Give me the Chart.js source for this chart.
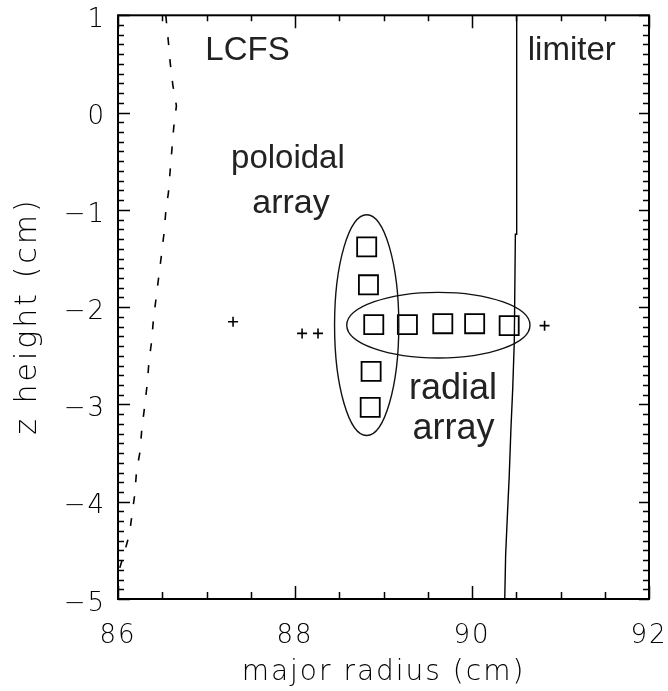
<!DOCTYPE html>
<html>
<head>
<meta charset="utf-8">
<script src="https://cdn.jsdelivr.net/npm/chart.js@4.4.1/dist/chart.umd.min.js"></script>
<style>
  html, body { margin: 0; padding: 0; background: #fff; }
  canvas { display: block; }
</style>
</head>
<body>
<canvas id="probeChart" width="668" height="691"></canvas>
<script>
// ── data (major radius in cm, z height in cm) ─────────────────────────────
const lcfsR = [86.54, 86.57, 86.59, 86.62, 86.66, 86.63, 86.61, 86.59, 86.57, 86.54, 86.52, 86.49, 86.46, 86.43,
               86.40, 86.38, 86.35, 86.33, 86.30, 86.27, 86.25, 86.21, 86.19, 86.16, 86.13, 86.07, 86.02];
const lcfsZ = [1.00, 0.72, 0.51, 0.28, 0.07, -0.15, -0.37, -0.59, -0.82, -1.02, -1.24, -1.47, -1.69, -1.91,
               -2.13, -2.35, -2.56, -2.79, -3.03, -3.24, -3.48, -3.68, -3.92, -4.12, -4.33, -4.53, -4.68];

const limiterR = [90.505, 90.505, 90.49, 90.478, 90.46, 90.44, 90.42, 90.40, 90.38, 90.37];
const limiterZ = [1.00, -1.25, -1.25, -2.35, -2.84, -3.25, -3.75, -4.14, -4.55, -5.00];

const plusR = [87.30, 88.08, 88.26, 90.82];
const plusZ = [-2.15, -2.27, -2.27, -2.19];

const poloidalR = [88.81, 88.83, 88.89, 88.86, 88.85];
const poloidalZ = [-1.38, -1.77, -2.18, -2.66, -3.03];

const radialR = [89.27, 89.67, 90.03, 90.42];
const radialZ = [-2.18, -2.17, -2.17, -2.19];

// ellipse outlines: [centre R, centre z, half width R, half height z]
const poloidalRing = [88.81, -2.185, 0.363, 1.135];
const radialRing   = [89.62, -2.185, 1.035, 0.337];

// tick values
const xTickStep = 2;
const yTickStep = 1;

// ── annotations (data coords, alphabetic baseline) ───────────────────────
const notes = [
  { text: 'LCFS',     r: 87.463, z: 0.54,   size: 33 },
  { text: 'limiter',  r: 91.127, z: 0.54,   size: 33 },
  { text: 'poloidal', r: 87.92,  z: -0.574, size: 33 },
  { text: 'array',    r: 87.955, z: -1.034, size: 34 },
  { text: 'radial',   r: 89.785, z: -2.945, size: 36 },
  { text: 'array',    r: 89.79,  z: -3.354, size: 36 },
];

const pts = (rs, zs) => rs.map((r, i) => ({ x: r, y: zs[i] }));
const minus = v => String(v).replace('-', '\u2212');
const AXIS_FONT = "'DejaVu Sans', sans-serif";

/* ─────────────────────────────────────────────
 * frame, inward ticks, ellipses, labels
 * ───────────────────────────────────────────── */
const probeDecor = {
  id: 'probeDecor',
  beforeDraw(chart) {
    chart.ctx.letterSpacing = '2px';
  },
  afterDatasetsDraw(chart) {
    const { ctx } = chart;
    const xs = chart.scales.x, ys = chart.scales.y;
    ctx.save();
    ctx.strokeStyle = '#111';
    ctx.lineWidth = 1.4;
    [poloidalRing, radialRing].forEach(([cr, cz, ar, az]) => {
      const cx = xs.getPixelForValue(cr);
      const cy = ys.getPixelForValue(cz);
      const rx = Math.abs(xs.getPixelForValue(cr + ar) - cx);
      const ry = Math.abs(ys.getPixelForValue(cz + az) - cy);
      ctx.beginPath();
      ctx.ellipse(cx, cy, rx, ry, 0, 0, Math.PI * 2);
      ctx.stroke();
    });
    ctx.restore();
  },
  afterDraw(chart) {
    const { ctx, chartArea: a } = chart;
    const xs = chart.scales.x, ys = chart.scales.y;
    ctx.save();
    ctx.strokeStyle = '#000';

    // x ticks every 0.5, major every 2
    ctx.lineWidth = 1.5;
    for (let k = 0; k <= 12; k++) {
      const v = 86 + k * 0.5;
      const px = Math.round(xs.getPixelForValue(v)) + 0.5;
      const major = k % 4 === 0;
      ctx.beginPath();
      ctx.moveTo(px, a.bottom); ctx.lineTo(px, a.bottom - (major ? 13 : 7));
      ctx.moveTo(px, a.top);    ctx.lineTo(px, a.top + (major ? 13 : 6));
      ctx.stroke();
    }
    // y ticks every 0.1, major every 1
    for (let k = 0; k <= 60; k++) {
      const v = -5 + k * 0.1;
      const py = Math.round(ys.getPixelForValue(v)) + 0.5;
      const major = k % 10 === 0;
      ctx.beginPath();
      ctx.moveTo(a.left, py);  ctx.lineTo(a.left + (major ? 12 : 6), py);
      ctx.moveTo(a.right, py); ctx.lineTo(a.right - (major ? 10 : 6), py);
      ctx.stroke();
    }

    // box
    ctx.lineWidth = 2;
    ctx.strokeRect(a.left, a.top, a.right - a.left, a.bottom - a.top);

    // y axis title (drawn by hand so it can sit a bit lower, like the original)
    ctx.save();
    ctx.letterSpacing = '3px';
    ctx.translate(28, 316);
    ctx.rotate(-Math.PI / 2);
    ctx.font = `200 30px ${AXIS_FONT}`;
    ctx.fillStyle = '#000';
    ctx.textAlign = 'center';
    ctx.textBaseline = 'middle';
    ctx.fillText('z height (cm)', 0, 0);
    ctx.restore();

    // text labels
    ctx.letterSpacing = '0px';
    ctx.fillStyle = '#222';
    ctx.textAlign = 'center';
    ctx.textBaseline = 'alphabetic';
    notes.forEach(n => {
      ctx.font = `${n.size}px 'Liberation Sans', Arial, sans-serif`;
      ctx.fillText(n.text, xs.getPixelForValue(n.r), ys.getPixelForValue(n.z));
    });
    ctx.restore();
  },
};

new Chart(document.getElementById('probeChart').getContext('2d'), {
  type: 'scatter',
  data: {
    datasets: [
      {
        label: 'LCFS',
        data: pts(lcfsR, lcfsZ),
        showLine: true,
        borderColor: '#000',
        borderWidth: 1.6,
        borderDash: [8, 14],
        pointRadius: 0,
        tension: 0,
      },
      {
        label: 'limiter',
        data: pts(limiterR, limiterZ),
        showLine: true,
        borderColor: '#000',
        borderWidth: 1.4,
        pointRadius: 0,
        tension: 0,
      },
      {
        label: 'probes',
        data: pts(plusR, plusZ),
        pointStyle: 'cross',
        pointRadius: 5,
        borderColor: '#000',
        borderWidth: 1.6,
      },
      {
        label: 'poloidal array',
        data: pts(poloidalR, poloidalZ),
        pointStyle: 'rect',
        pointRadius: 13.5,
        borderColor: '#000',
        backgroundColor: 'rgba(0,0,0,0)',
        borderWidth: 1.8,
      },
      {
        label: 'radial array',
        data: pts(radialR, radialZ),
        pointStyle: 'rect',
        pointRadius: 13.5,
        borderColor: '#000',
        backgroundColor: 'rgba(0,0,0,0)',
        borderWidth: 1.8,
      },
    ],
  },
  options: {
    responsive: false,
    animation: false,
    devicePixelRatio: 1,
    layout: { padding: { top: 12, right: 19, left: 0, bottom: 0 } },
    plugins: { legend: { display: false }, tooltip: { enabled: false } },
    scales: {
      x: {
        type: 'linear',
        min: 86,
        max: 92,
        afterFit: s => { s.height = 92; s.paddingLeft = 0; s.paddingRight = 0; },
        border: { display: false },
        grid: { display: false, drawTicks: false },
        ticks: {
          stepSize: xTickStep,
          padding: 22,
          color: '#000',
          font: { family: AXIS_FONT, size: 26, weight: 200 },
          maxRotation: 0,
          callback: v => minus(v),
        },
        title: {
          display: true,
          text: 'major radius (cm)',
          color: '#000',
          font: { family: AXIS_FONT, size: 28, weight: 200 },
          padding: { top: 0, bottom: 1 },
        },
      },
      y: {
        type: 'linear',
        min: -5,
        max: 1,
        afterFit: s => { s.width = 118; s.paddingTop = 0; s.paddingBottom = 0; },
        border: { display: false },
        grid: { display: false, drawTicks: false },
        ticks: {
          stepSize: yTickStep,
          padding: 12,
          labelOffset: 5,
          color: '#000',
          font: { family: AXIS_FONT, size: 26, weight: 200 },
          callback: v => minus(v),
        },
        title: { display: false },
      },
    },
  },
  plugins: [probeDecor],
});
</script>
</body>
</html>
